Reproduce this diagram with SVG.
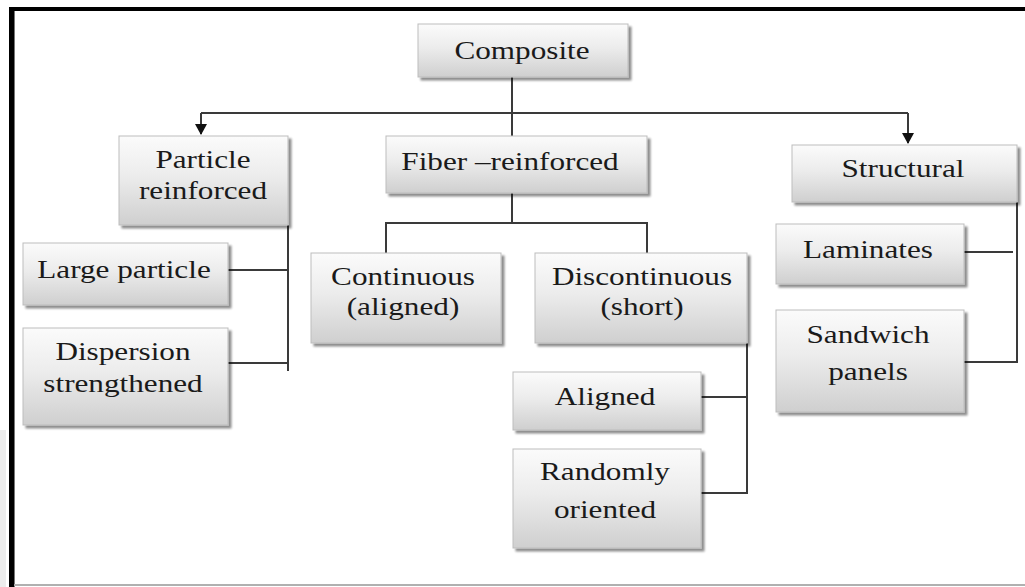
<svg xmlns="http://www.w3.org/2000/svg" width="1025" height="587" viewBox="0 0 1025 587">
<defs>
<linearGradient id="g" x1="0" y1="0" x2="0" y2="1">
<stop offset="0" stop-color="#fbfbfb"/>
<stop offset="0.45" stop-color="#ececec"/>
<stop offset="1" stop-color="#cfcfcf"/>
</linearGradient>
<filter id="sh" x="-5%" y="-5%" width="115%" height="120%">
<feGaussianBlur in="SourceAlpha" stdDeviation="0.8"/>
<feOffset dx="3" dy="3" result="o"/>
<feComponentTransfer><feFuncA type="linear" slope="0.45"/></feComponentTransfer>
<feMerge><feMergeNode/><feMergeNode in="SourceGraphic"/></feMerge>
</filter>
<marker id="arr" markerWidth="12" markerHeight="12" refX="10" refY="6" orient="auto" markerUnits="userSpaceOnUse">
<path d="M0,0 L11,6 L0,12 z" fill="#111"/>
</marker>
<style>
.box{fill:url(#g);stroke:#bdbdbd;stroke-width:1;filter:url(#sh)}
.t{font-family:'Liberation Serif','DejaVu Serif',serif;font-size:26px;fill:#1a1a1a;text-anchor:middle}
.c{fill:none;stroke:#3a3a3a;stroke-width:2}
</style>
</defs>
<rect width="1025" height="587" fill="#fff"/>
<g id="frame">
<rect x="0" y="430" width="6" height="157" fill="#ececec"/>
<rect x="9" y="7" width="1016" height="4" fill="#000"/>
<rect x="9" y="7" width="5" height="580" fill="#000"/>
<rect x="14" y="11" width="1" height="576" fill="#777"/>
<rect x="14" y="584" width="1011" height="2" fill="#b0b0b0"/>
</g>
<g id="connectors">
<path class="c" d="M512,77 V136"/>
<path class="c" d="M201,113 H908"/>
<path class="c" d="M201,113 V134" marker-end="url(#arr)"/>
<path class="c" d="M908,113 V143" marker-end="url(#arr)"/>
<path class="c" d="M288,225 V371 M228,270 H288 M228,363 H288"/>
<path class="c" d="M512,193 V223 M386,223 H647 M386,222 V253 M647,222 V253"/>
<path class="c" d="M747,343 V494 M701,397 H747 M701,493 H747"/>
<path class="c" d="M1017,202 V363 M964,252 H1013 M964,362 H1017"/>
</g>
<g id="composite"><rect class="box" x="418" y="24" width="210" height="53"/>
<text class="t" font-family="Liberation Serif, serif" transform="translate(522,59) scale(1.2,1)">Composite</text></g>
<g id="particle"><rect class="box" x="119" y="136" width="169" height="89"/>
<text class="t" transform="translate(203,168) scale(1.2,1)">Particle</text>
<text class="t" transform="translate(203,199) scale(1.2,1)">reinforced</text></g>
<g id="fiber"><rect class="box" x="386" y="136" width="261" height="57"/>
<text class="t" transform="translate(510,170) scale(1.2,1)">Fiber –reinforced</text></g>
<g id="structural"><rect class="box" x="792" y="145" width="225" height="57"/>
<text class="t" transform="translate(903,177) scale(1.2,1)">Structural</text></g>
<g id="large"><rect class="box" x="23" y="243" width="205" height="62"/>
<text class="t" transform="translate(124,278) scale(1.2,1)">Large particle</text></g>
<g id="dispersion"><rect class="box" x="23" y="328" width="205" height="97"/>
<text class="t" transform="translate(123,360) scale(1.2,1)">Dispersion</text>
<text class="t" transform="translate(123,392) scale(1.2,1)">strengthened</text></g>
<g id="continuous"><rect class="box" x="311" y="253" width="190" height="90"/>
<text class="t" transform="translate(403,285) scale(1.2,1)">Continuous</text>
<text class="t" transform="translate(403,315) scale(1.2,1)">(aligned)</text></g>
<g id="discontinuous"><rect class="box" x="535" y="253" width="212" height="90"/>
<text class="t" transform="translate(642,285) scale(1.2,1)">Discontinuous</text>
<text class="t" transform="translate(642,315) scale(1.2,1)">(short)</text></g>
<g id="aligned"><rect class="box" x="513" y="372" width="188" height="58"/>
<text class="t" transform="translate(605,405) scale(1.2,1)">Aligned</text></g>
<g id="randomly"><rect class="box" x="513" y="449" width="188" height="99"/>
<text class="t" transform="translate(605,480) scale(1.2,1)">Randomly</text>
<text class="t" transform="translate(605,518) scale(1.2,1)">oriented</text></g>
<g id="laminates"><rect class="box" x="776" y="224" width="188" height="60"/>
<text class="t" transform="translate(868,258) scale(1.2,1)">Laminates</text></g>
<g id="sandwich"><rect class="box" x="776" y="310" width="188" height="102"/>
<text class="t" transform="translate(868,343) scale(1.2,1)">Sandwich</text>
<text class="t" transform="translate(868,380) scale(1.2,1)">panels</text></g>
</svg>
